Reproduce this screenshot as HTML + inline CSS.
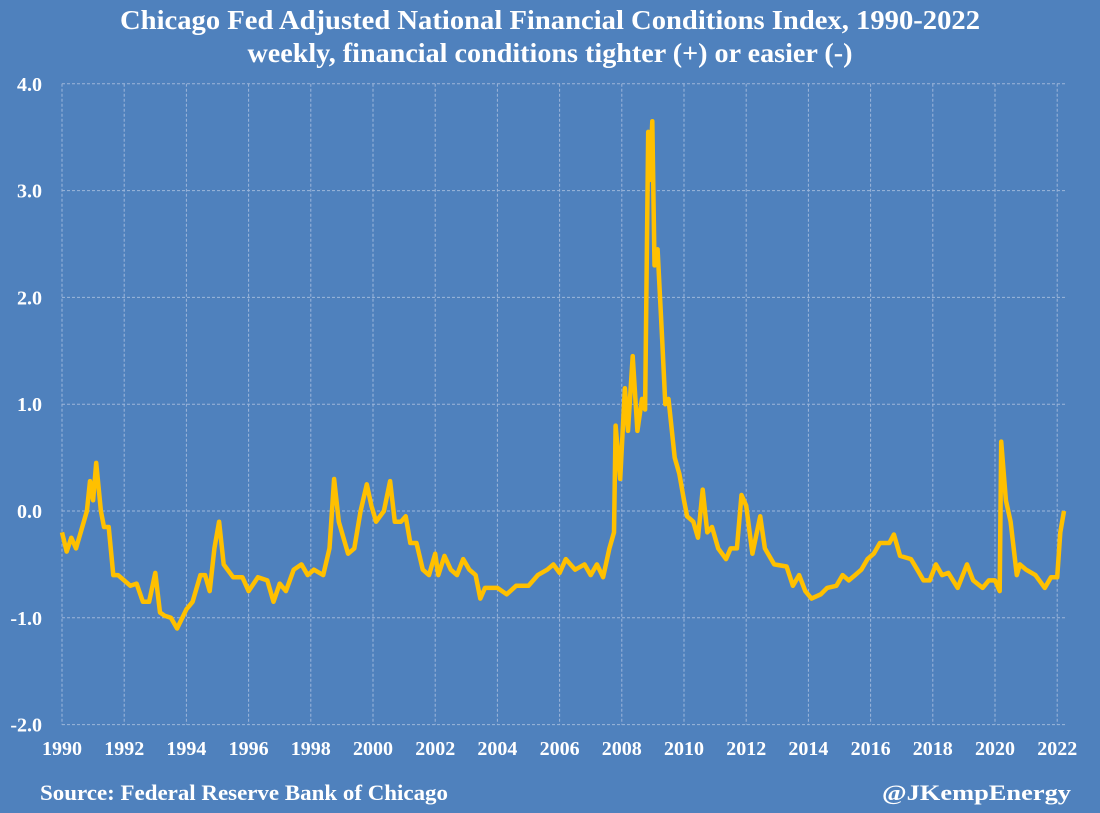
<!DOCTYPE html>
<html><head><meta charset="utf-8"><style>
body{margin:0;background:#4f81bd;}
svg{display:block;font-family:"Liberation Serif",serif;font-weight:bold;}
</style></head><body>
<svg id="chart" width="1100" height="813">
<rect width="1100" height="813" fill="#4f81bd"/>
<text x="550" y="29" text-anchor="middle" fill="#fff" font-size="27" textLength="860" lengthAdjust="spacingAndGlyphs">Chicago Fed Adjusted National Financial Conditions Index, 1990-2022</text>
<text x="550" y="62" text-anchor="middle" fill="#fff" font-size="27" textLength="605" lengthAdjust="spacingAndGlyphs">weekly, financial conditions tighter (+) or easier (-)</text>
<g id="grid"></g><g id="axes"></g><g id="series"></g>
<text x="40" y="800" fill="#fff" font-size="22" textLength="408" lengthAdjust="spacingAndGlyphs">Source: Federal Reserve Bank of Chicago</text>
<text x="1071" y="800" text-anchor="end" fill="#fff" font-size="22" textLength="189" lengthAdjust="spacingAndGlyphs">@JKempEnergy</text>
</svg>
<script>
const yTicks=[4,3,2,1,0,-1,-2];
const yTickLabels=["4.0","3.0","2.0","1.0","0.0","-1.0","-2.0"];
const xTicks=[1990,1992,1994,1996,1998,2000,2002,2004,2006,2008,2010,2012,2014,2016,2018,2020,2022];
const years=[1990,1990.15,1990.3,1990.45,1990.6,1990.8,1990.9,1991,1991.1,1991.25,1991.35,1991.5,1991.65,1991.8,1992,1992.2,1992.4,1992.6,1992.8,1993,1993.15,1993.3,1993.5,1993.7,1994,1994.2,1994.45,1994.6,1994.75,1994.9,1995.05,1995.2,1995.5,1995.8,1996,1996.3,1996.6,1996.8,1997,1997.2,1997.45,1997.7,1997.9,1998.1,1998.4,1998.6,1998.75,1998.9,1999.2,1999.4,1999.6,1999.8,1999.95,2000.1,2000.35,2000.55,2000.7,2000.9,2001.05,2001.2,2001.4,2001.6,2001.8,2002,2002.1,2002.3,2002.5,2002.7,2002.9,2003.1,2003.3,2003.45,2003.6,2004,2004.3,2004.6,2005,2005.3,2005.6,2005.8,2006,2006.2,2006.5,2006.8,2007,2007.2,2007.4,2007.6,2007.75,2007.8,2007.95,2008.1,2008.2,2008.35,2008.5,2008.65,2008.75,2008.85,2008.9,2008.98,2009.05,2009.15,2009.3,2009.4,2009.5,2009.7,2009.85,2010,2010.1,2010.3,2010.45,2010.6,2010.75,2010.9,2011.1,2011.35,2011.5,2011.7,2011.85,2012,2012.2,2012.45,2012.6,2012.9,2013.3,2013.5,2013.7,2013.9,2014.1,2014.4,2014.6,2014.9,2015.1,2015.3,2015.5,2015.7,2015.9,2016.1,2016.3,2016.6,2016.75,2016.95,2017.3,2017.5,2017.7,2017.9,2018.1,2018.3,2018.5,2018.8,2019.1,2019.3,2019.6,2019.8,2020,2020.15,2020.2,2020.35,2020.5,2020.7,2020.8,2021,2021.3,2021.6,2021.8,2022,2022.1,2022.22];
const values=[-0.2,-0.38,-0.25,-0.35,-0.2,0,0.28,0.1,0.45,0,-0.15,-0.15,-0.6,-0.6,-0.65,-0.7,-0.68,-0.85,-0.85,-0.58,-0.95,-0.98,-1,-1.1,-0.92,-0.85,-0.6,-0.6,-0.75,-0.35,-0.1,-0.5,-0.62,-0.62,-0.75,-0.62,-0.65,-0.85,-0.68,-0.75,-0.55,-0.5,-0.6,-0.55,-0.6,-0.35,0.3,-0.1,-0.4,-0.35,0,0.25,0.05,-0.1,0,0.28,-0.1,-0.1,-0.05,-0.3,-0.3,-0.55,-0.6,-0.4,-0.6,-0.42,-0.55,-0.6,-0.45,-0.55,-0.6,-0.82,-0.72,-0.72,-0.78,-0.7,-0.7,-0.6,-0.55,-0.5,-0.58,-0.45,-0.55,-0.5,-0.6,-0.5,-0.62,-0.35,-0.2,0.8,0.3,1.15,0.75,1.45,0.75,1.05,0.95,3.55,3.1,3.65,2.3,2.45,1.6,1,1.05,0.5,0.35,0.1,-0.05,-0.1,-0.25,0.2,-0.2,-0.15,-0.35,-0.45,-0.35,-0.35,0.15,0.05,-0.4,-0.05,-0.35,-0.5,-0.52,-0.7,-0.6,-0.75,-0.82,-0.78,-0.72,-0.7,-0.6,-0.65,-0.6,-0.55,-0.45,-0.4,-0.3,-0.3,-0.22,-0.42,-0.45,-0.55,-0.65,-0.65,-0.5,-0.6,-0.58,-0.72,-0.5,-0.65,-0.72,-0.65,-0.65,-0.75,0.65,0.1,-0.1,-0.6,-0.5,-0.55,-0.6,-0.72,-0.62,-0.62,-0.2,0];
const X0=62,X1=1067,PXYR=31.1,Y0=511,PXU=106.8;
const xs=y=>X0+(y-1990)*PXYR, ys=v=>Y0-v*PXU;
const NS="http://www.w3.org/2000/svg";
const grid=document.getElementById('grid'),axes=document.getElementById('axes'),ser=document.getElementById('series');
function mk(tag,attrs,parent){const e=document.createElementNS(NS,tag);for(const k in attrs)e.setAttribute(k,attrs[k]);parent.appendChild(e);return e;}
yTicks.forEach((t,i)=>{
  const l=mk('line',{x1:X0,x2:X1,y1:ys(t),y2:ys(t),stroke:'#9db6da','stroke-width':1,'stroke-dasharray':'3,2'},grid);
  
  
  const tx=mk('text',{x:X0-20,y:ys(t)+7,'text-anchor':'end',fill:'#fff','font-size':20},axes);
  tx.textContent=yTickLabels[i];
  
  
});
xTicks.forEach(t=>{
  const l=mk('line',{x1:xs(t),x2:xs(t),y1:ys(4),y2:ys(-2),stroke:'#9db6da','stroke-width':1,'stroke-dasharray':'3,2'},grid);
  
  
  const tx=mk('text',{x:xs(t),y:755,'text-anchor':'middle',fill:'#fff','font-size':20},axes);
  tx.textContent=String(t);
  
  
});
const d=years.map((y,i)=>(i?'L':'M')+xs(y).toFixed(1)+' '+ys(values[i]).toFixed(1)).join(' ');
const p=mk('path',{d:d,fill:'none',stroke:'#ffc000','stroke-width':4.5,'stroke-linejoin':'round'},ser);


</script>
</body></html>
